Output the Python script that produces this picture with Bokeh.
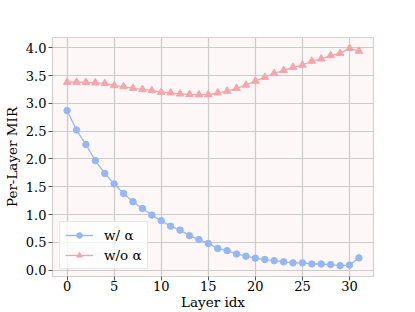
from bokeh.plotting import figure
from bokeh.models import FixedTicker, Range1d, Legend, LegendItem, NumeralTickFormatter
from bokeh.embed import file_html
from bokeh.resources import INLINE

layers = list(range(32))
with_alpha = [2.87, 2.52, 2.26, 1.97, 1.74, 1.55, 1.38, 1.23, 1.11, 0.99, 0.89, 0.79,
              0.72, 0.62, 0.55, 0.48, 0.39, 0.35, 0.29, 0.25, 0.215, 0.19, 0.17, 0.15,
              0.13, 0.13, 0.11, 0.11, 0.10, 0.08, 0.09, 0.22]
without_alpha = [3.38, 3.38, 3.38, 3.37, 3.36, 3.32, 3.30, 3.27, 3.25, 3.23, 3.20, 3.19,
                 3.17, 3.16, 3.155, 3.155, 3.19, 3.22, 3.27, 3.33, 3.40, 3.47, 3.54, 3.59,
                 3.65, 3.69, 3.76, 3.80, 3.86, 3.90, 3.99, 3.94]
x_ticks = [0, 5, 10, 15, 20, 25, 30]
y_ticks = [0.0, 0.5, 1.0, 1.5, 2.0, 2.5, 3.0, 3.5, 4.0]
label_with = "w/ α"
label_without = "w/o α"
x_label = "Layer idx"
y_label = "Per-Layer MIR"

FONT = "DejaVu Serif"
BLUE = "#97b7f4"
RED = "#f6a5aa"
TEXT = "#000000"

p = figure(width=415, height=312, output_backend="svg", toolbar_location=None,
           x_range=Range1d(-1.55, 32.55), y_range=Range1d(-0.115, 4.185),
           min_border_left=52, min_border_right=42, min_border_top=37, min_border_bottom=34)

p.border_fill_color = "white"
p.background_fill_color = "#fdf7f7"
p.outline_line_color = "#d2d2d2"
p.outline_line_width = 1.2

for ax in (p.xaxis, p.yaxis):
    ax.axis_line_color = None
    ax.major_tick_line_color = "#555555"
    ax.major_tick_out = 4
    ax.major_tick_in = 0
    ax.minor_tick_line_color = None
    ax.major_label_text_font = FONT
    ax.major_label_text_font_size = "13px"
    ax.major_label_text_color = TEXT
    ax.axis_label_text_font = FONT
    ax.axis_label_text_font_size = "13.5px"
    ax.axis_label_text_font_style = "normal"
    ax.axis_label_text_color = TEXT

p.xaxis.ticker = FixedTicker(ticks=x_ticks)
p.yaxis.ticker = FixedTicker(ticks=y_ticks)
p.yaxis.formatter = NumeralTickFormatter(format="0.0")
p.xaxis.axis_label = x_label
p.yaxis.axis_label = y_label
p.xaxis.major_label_standoff = 0
p.xaxis.axis_label_standoff = 0
p.yaxis.major_label_standoff = 2
p.yaxis.axis_label_standoff = 3

p.xgrid.ticker = FixedTicker(ticks=x_ticks)
p.ygrid.ticker = FixedTicker(ticks=y_ticks)
p.grid.grid_line_color = "#cccccc"
p.grid.grid_line_width = 1.2

l1 = p.line(layers, with_alpha, line_color=BLUE, line_width=1.3)
m1 = p.scatter(layers, with_alpha, marker="circle", size=6.5, fill_color=BLUE, line_color=BLUE)
l2 = p.line(layers, without_alpha, line_color=RED, line_width=1.3)
m2 = p.scatter(layers, without_alpha, marker="triangle", size=7.5, fill_color=RED, line_color=RED)

legend = Legend(items=[LegendItem(label=label_with, renderers=[l1, m1]),
                       LegendItem(label=label_without, renderers=[l2, m2])],
                location="bottom_left")
legend.label_text_font = FONT
legend.label_text_font_size = "13.5px"
legend.label_text_color = TEXT
legend.border_line_color = "#d2d2d2"
legend.border_line_width = 1
legend.background_fill_color = "white"
legend.background_fill_alpha = 0.8
legend.glyph_width = 28
legend.glyph_height = 14
legend.spacing = 4
legend.padding = 5
legend.margin = 7
legend.label_standoff = 11
p.add_layout(legend)

open("out.html", "w").write(file_html(p, INLINE))
